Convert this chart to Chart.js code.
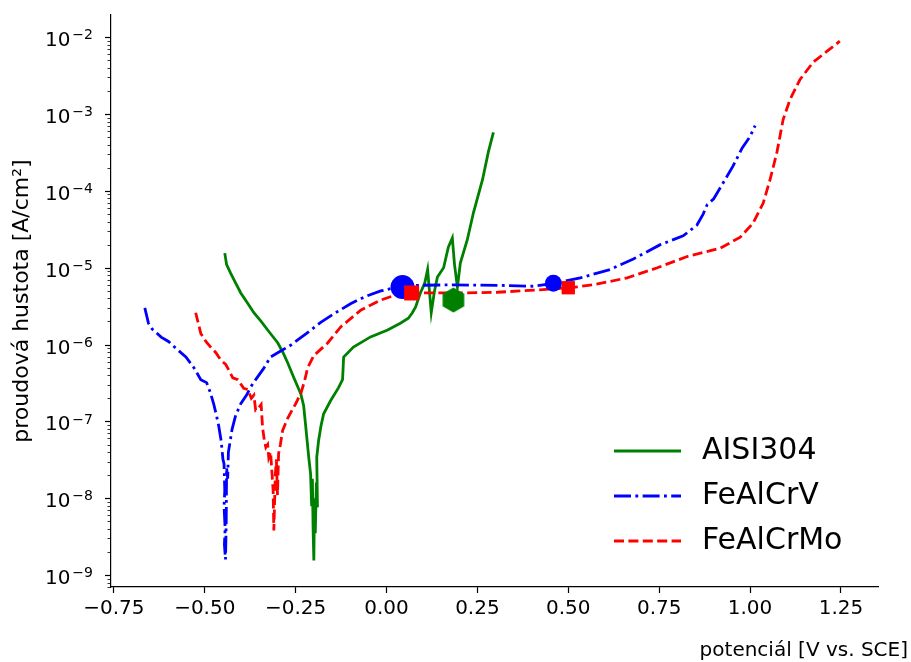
<!DOCTYPE html>
<html>
<head>
<meta charset="utf-8">
<script src="https://cdn.jsdelivr.net/npm/chart.js@4"></script>
<style>
  html, body { margin: 0; padding: 0; background: #ffffff; }
  #wrap { position: relative; width: 911px; height: 662px; }
</style>
</head>
<body>
<div id="wrap"><canvas id="polarChart"></canvas></div>
<script>
// potential [V vs. SCE] and current density [A/cm2]
const aisiE = [-0.445, -0.44, -0.429, -0.415, -0.401, -0.383, -0.365, -0.345, -0.327, -0.299, -0.285, -0.272, -0.255, -0.236, -0.228, -0.223, -0.214, -0.209, -0.206, -0.204, -0.202, -0.200, -0.198, -0.196, -0.193, -0.190, -0.192, -0.187, -0.180, -0.173, -0.154, -0.132, -0.121, -0.118, -0.091, -0.044, 0.003, 0.038, 0.060, 0.071, 0.080, 0.093, 0.105, 0.113, 0.118, 0.123, 0.132, 0.140, 0.157, 0.170, 0.181, 0.187, 0.195, 0.203, 0.222, 0.239, 0.264, 0.280, 0.294];
const aisiJ = [1.55e-5, 1.1e-5, 8.5e-6, 6.3e-6, 4.7e-6, 3.5e-6, 2.6e-6, 2.0e-6, 1.55e-6, 1.05e-6, 7.9e-7, 5.8e-7, 3.7e-7, 2.3e-7, 1.6e-7, 9.3e-8, 3.4e-8, 2.1e-8, 7.9e-9, 1.8e-8, 4.0e-9, 1.55e-9, 1.0e-8, 3.5e-9, 1.6e-8, 7.6e-9, 3.4e-8, 5.6e-8, 8.9e-8, 1.26e-7, 1.86e-7, 2.75e-7, 3.5e-7, 6.9e-7, 9.3e-7, 1.26e-6, 1.55e-6, 1.9e-6, 2.2e-6, 2.6e-6, 3.1e-6, 4.7e-6, 6.3e-6, 9.5e-6, 5.0e-6, 2.6e-6, 5.0e-6, 7.6e-6, 1.0e-5, 1.86e-5, 2.45e-5, 1.1e-5, 5.6e-6, 1.15e-5, 2.3e-5, 5.2e-5, 1.4e-4, 3.2e-4, 5.8e-4];

const crvE = [-0.665, -0.655, -0.645, -0.62, -0.60, -0.58, -0.552, -0.53, -0.511, -0.495, -0.485, -0.475, -0.468, -0.462, -0.455, -0.450, -0.447, -0.445, -0.447, -0.444, -0.446, -0.443, -0.441, -0.440, -0.437, -0.435, -0.43, -0.425, -0.415, -0.401, -0.385, -0.374, -0.360, -0.338, -0.319, -0.29, -0.264, -0.22, -0.181, -0.14, -0.099, -0.06, -0.016, 0.03, 0.08, 0.176, 0.313, 0.40, 0.456, 0.533, 0.615, 0.679, 0.753, 0.816, 0.854, 0.871, 0.882, 0.90, 0.918, 0.953, 0.978, 1.000, 1.014];
const crvJ = [3.0e-6, 1.9e-6, 1.6e-6, 1.25e-6, 1.1e-6, 9.0e-7, 6.9e-7, 5.0e-7, 3.5e-7, 3.2e-7, 2.4e-7, 1.65e-7, 1.2e-7, 8.9e-8, 5.6e-8, 3.2e-8, 2.8e-8, 1.26e-8, 7.9e-9, 4.0e-9, 2.5e-9, 1.6e-9, 5.0e-9, 2.5e-8, 1.8e-8, 4.0e-8, 5.6e-8, 7.9e-8, 1.2e-7, 1.7e-7, 2.2e-7, 2.8e-7, 3.5e-7, 4.9e-7, 6.9e-7, 8.3e-7, 9.8e-7, 1.4e-6, 1.95e-6, 2.6e-6, 3.4e-6, 4.2e-6, 5.0e-6, 5.6e-6, 5.9e-6, 6.0e-6, 5.9e-6, 5.75e-6, 6.2e-6, 7.4e-6, 9.5e-6, 1.3e-5, 2.0e-5, 2.6e-5, 3.6e-5, 5.0e-5, 6.6e-5, 7.9e-5, 1.1e-4, 2.1e-4, 3.6e-4, 5.1e-4, 7.1e-4];

const crmoE = [-0.525, -0.518, -0.511, -0.497, -0.484, -0.470, -0.456, -0.442, -0.423, -0.409, -0.393, -0.382, -0.372, -0.365, -0.360, -0.352, -0.345, -0.341, -0.336, -0.332, -0.327, -0.324, -0.319, -0.315, -0.312, -0.310, -0.306, -0.303, -0.300, -0.297, -0.292, -0.286, -0.272, -0.26, -0.25, -0.236, -0.226, -0.217, -0.200, -0.162, -0.126, -0.071, -0.016, 0.030, 0.069, 0.121, 0.212, 0.305, 0.431, 0.505, 0.569, 0.662, 0.745, 0.827, 0.918, 0.973, 1.008, 1.036, 1.055, 1.074, 1.091, 1.110, 1.137, 1.173, 1.212, 1.247];
const crmoJ = [2.6e-6, 1.9e-6, 1.4e-6, 1.1e-6, 9.3e-7, 7.9e-7, 6.3e-7, 5.5e-7, 3.7e-7, 3.5e-7, 2.7e-7, 2.6e-7, 2.0e-7, 2.2e-7, 1.4e-7, 1.5e-7, 1.66e-7, 8.3e-8, 5.6e-8, 4.6e-8, 5.0e-8, 3.4e-8, 4.0e-8, 2.1e-8, 1.26e-8, 3.8e-9, 2.0e-8, 3.2e-8, 1.1e-8, 3.8e-8, 5.0e-8, 7.6e-8, 1.1e-7, 1.4e-7, 1.7e-7, 2.3e-7, 3.3e-7, 5.0e-7, 7.2e-7, 1.05e-6, 1.7e-6, 2.8e-6, 3.8e-6, 4.5e-6, 4.7e-6, 4.7e-6, 4.7e-6, 4.8e-6, 5.2e-6, 5.5e-6, 6.0e-6, 7.4e-6, 1.0e-5, 1.4e-5, 1.8e-5, 2.5e-5, 3.8e-5, 6.9e-5, 1.4e-4, 3.2e-4, 8.5e-4, 1.55e-3, 2.8e-3, 4.7e-3, 6.6e-3, 8.9e-3];

// highlighted points
const aisiMarkE = [0.184];
const aisiMarkJ = [3.8e-6];
const crvMarkE = [0.044, 0.459];
const crvMarkJ = [5.6e-6, 6.3e-6];
const crmoMarkE = [0.069, 0.500];
const crmoMarkJ = [4.7e-6, 5.5e-6];

const seriesNames = ['AISI304', 'FeAlCrV', 'FeAlCrMo'];
const xTickValues = [-0.75, -0.50, -0.25, 0.00, 0.25, 0.50, 0.75, 1.00, 1.25];
const yDecades = [-9, -8, -7, -6, -5, -4, -3, -2];

const FONT = '"DejaVu Sans", "Liberation Sans", sans-serif';
const GREEN = '#008000', BLUE = '#0000ff', RED = '#ff0000';

const toPoints = (xs, ys) => xs.map((x, i) => ({ x: x, y: ys[i] }));

const isDecade = (v) => {
  const l = Math.log10(v);
  return Math.abs(l - Math.round(l)) < 1e-6;
};

// hexagon marker (pointy top)
const hexMarker = (() => {
  const c = document.createElement('canvas');
  c.width = 26; c.height = 26;
  const g = c.getContext('2d');
  g.beginPath();
  for (let k = 0; k < 6; k++) {
    const a = (-90 + 60 * k) * Math.PI / 180;
    const px = 13 + 12.5 * Math.cos(a), py = 13 + 12.5 * Math.sin(a);
    k === 0 ? g.moveTo(px, py) : g.lineTo(px, py);
  }
  g.closePath();
  g.fillStyle = GREEN;
  g.fill();
  return c;
})();

// y ticks (major + minor), 10^n labels, legend and the x axis title
const extrasPlugin = {
  id: 'extras',
  afterDraw(chart) {
    const ctx = chart.ctx;
    const ys = chart.scales.y;
    const left = chart.chartArea.left;
    ctx.save();
    ctx.strokeStyle = '#000';
    ys.ticks.forEach(t => {
      const py = Math.round(ys.getPixelForValue(t.value)) + 0.5;
      const major = isDecade(t.value);
      ctx.lineWidth = major ? 1.2 : 0.8;
      ctx.beginPath();
      ctx.moveTo(left, py);
      ctx.lineTo(left - (major ? 6 : 3.5), py);
      ctx.stroke();
    });

    // decade labels as 10 with a raised exponent
    ctx.fillStyle = '#000';
    ctx.textBaseline = 'alphabetic';
    ctx.textAlign = 'left';
    yDecades.forEach(e => {
      const py = ys.getPixelForValue(Math.pow(10, e));
      const expText = '\u2212' + Math.abs(e);
      ctx.font = '14px ' + FONT;
      const expW = ctx.measureText(expText).width;
      ctx.font = '20px ' + FONT;
      const baseW = ctx.measureText('10').width;
      const right = left - 18;
      const baseX = right - expW - 2 - baseW;
      ctx.fillText('10', baseX, py + 9);
      ctx.font = '14px ' + FONT;
      ctx.fillText(expText, right - expW, py + 2.2);
    });

    // legend
    const lines = chart.data.datasets.filter(d => d.inLegend);
    lines.forEach((d, i) => {
      const cy = 451 + i * 45;
      ctx.strokeStyle = d.borderColor;
      ctx.lineWidth = d.borderWidth;
      ctx.setLineDash(d.borderDash || []);
      ctx.beginPath();
      ctx.moveTo(614, cy);
      ctx.lineTo(681, cy);
      ctx.stroke();
      ctx.setLineDash([]);
      ctx.fillStyle = '#000';
      ctx.font = '30px ' + FONT;
      ctx.textAlign = 'left';
      ctx.textBaseline = 'middle';
      ctx.fillText(d.label, 702, cy);
    });

    ctx.font = '20px ' + FONT;
    ctx.textAlign = 'right';
    ctx.textBaseline = 'middle';
    ctx.fillStyle = '#000';
    ctx.fillText('potenciál [V vs. SCE]', 908, 651);
    ctx.restore();
  }
};

const lineDs = (label, xs, ys, color, dash, order) => ({
  label: label,
  data: toPoints(xs, ys),
  showLine: true,
  borderColor: color,
  backgroundColor: color,
  borderWidth: 2.8,
  borderDash: dash,
  pointRadius: 0,
  tension: 0,
  order: order,
  inLegend: true
});

new Chart(document.getElementById('polarChart'), {
  type: 'scatter',
  data: {
    datasets: [
      lineDs(seriesNames[0], aisiE, aisiJ, GREEN, [], 3),
      lineDs(seriesNames[1], crvE, crvJ, BLUE, [17, 4.4, 2.8, 4.4], 2),
      lineDs(seriesNames[2], crmoE, crmoJ, RED, [10, 4.4], 1),
      {
        label: 'AISI304 mark', data: toPoints(aisiMarkE, aisiMarkJ),
        pointStyle: hexMarker, pointRadius: 12, order: 0
      },
      {
        label: 'FeAlCrV mark', data: toPoints(crvMarkE, crvMarkJ),
        pointStyle: 'circle', pointRadius: [12, 8.5], borderWidth: 0,
        backgroundColor: BLUE, borderColor: BLUE, order: 0
      },
      {
        label: 'FeAlCrMo mark', data: toPoints(crmoMarkE, crmoMarkJ),
        pointStyle: 'rect', pointRadius: [10.6, 9.4], borderWidth: 0,
        backgroundColor: RED, borderColor: RED, order: -1
      }
    ]
  },
  options: {
    responsive: true,
    maintainAspectRatio: false,
    animation: false,
    layout: { padding: { top: 15, right: 33, left: 0, bottom: 0 } },
    plugins: {
      legend: { display: false },
      tooltip: { enabled: false }
    },
    scales: {
      x: {
        type: 'linear',
        min: -0.758,
        max: 1.352,
        afterFit: (s) => { s.height = 75; },
        afterBuildTicks: (s) => { s.ticks = xTickValues.map(v => ({ value: v })); },
        grid: { drawOnChartArea: false, drawTicks: true, tickLength: 6, tickColor: '#000', tickWidth: 1.2 },
        border: { display: true, color: '#000', width: 1.2 },
        ticks: {
          autoSkip: false,
          maxRotation: 0,
          padding: 4,
          color: '#000',
          font: { family: FONT, size: 20 },
          callback: (v) => v.toFixed(2).replace('-', '\u2212')
        }
      },
      y: {
        type: 'logarithmic',
        min: 7.1e-10,
        max: 0.0195,
        afterFit: (s) => { s.width = 111; },
        afterBuildTicks: (s) => {
          const t = [];
          yDecades.concat([-10]).forEach(e => {
            for (let k = 1; k < 10; k++) {
              const v = k * Math.pow(10, e);
              if (v >= s.min && v <= s.max) t.push({ value: v });
            }
          });
          t.sort((a, b) => a.value - b.value);
          s.ticks = t;
        },
        grid: { drawOnChartArea: false, drawTicks: false },
        border: { display: true, color: '#000', width: 1.2 },
        ticks: { display: false, autoSkip: false },
        title: {
          display: true,
          text: 'proudová hustota [A/cm\u00B2]',
          color: '#000',
          font: { family: FONT, size: 22 },
          padding: { top: 9, bottom: 0 }
        }
      }
    }
  },
  plugins: [extrasPlugin]
});
</script>
</body>
</html>
